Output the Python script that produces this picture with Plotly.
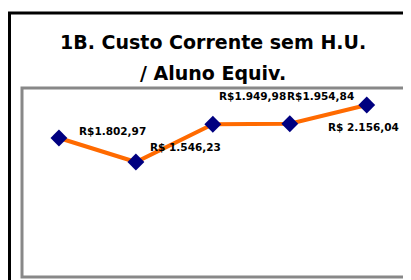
import plotly.graph_objects as go

categories = ["A", "B", "C", "D", "E"]
values = [1802.97, 1546.23, 1949.98, 1954.84, 2156.04]
labels = ["R$1.802,97", "R$ 1.546,23", "R$1.949,98", "R$1.954,84", "R$ 2.156,04"]
title_lines = ["1B. Custo Corrente sem H.U.", "/ Aluno Equiv."]

# label placement: (xanchor, xshift, yshift)
label_pos = [("left", 18, 7), ("left", 12, 15), ("left", 4, 28), ("left", -5, 28), ("center", -3, -22)]

OFF = 8  # default page margin of the html body
W, H = 411 - OFF, 280 - OFF
L, R, T, B = 22 - OFF, 5, 88 - OFF, 3
pw, ph = W - L - R, H - T - B

fig = go.Figure()
fig.add_trace(go.Scatter(
    x=list(range(len(categories))), y=values, mode="lines+markers",
    line=dict(color="#FF6A00", width=4),
    marker=dict(symbol="diamond", size=13, color="#000080"),
    hoverinfo="skip", showlegend=False,
))

ann = []
for i, (v, t) in enumerate(zip(values, labels)):
    xa, xs, ys = label_pos[i]
    ann.append(dict(x=i, y=v, xref="x", yref="y", text=t, showarrow=False,
                    xanchor=xa, yanchor="middle", xshift=xs, yshift=ys,
                    font=dict(family="DejaVu Sans", size=10.5, color="black", weight="bold")))

title_y = [42 - OFF, 73 - OFF]
for line, py in zip(title_lines, title_y):
    ann.append(dict(x=(213 - OFF - L) / pw, y=(H - B - py) / ph, xref="paper", yref="paper",
                    text=line, showarrow=False, xanchor="center", yanchor="middle",
                    font=dict(family="DejaVu Sans", size=19, color="black", weight="bold")))

shapes = [
    dict(type="rect", xref="paper", yref="paper",
         x0=(9.5 - OFF - L) / pw, x1=(W + 20 - L) / pw,
         y0=-0.2, y1=(H - B - (13 - OFF)) / ph,
         line=dict(color="black", width=3), layer="below"),
    dict(type="rect", xref="paper", yref="paper", x0=0, x1=1, y0=0, y1=1,
         line=dict(color="#888888", width=3), layer="below"),
]

fig.update_layout(
    width=W, height=H, margin=dict(l=L, r=R, t=T, b=B),
    paper_bgcolor="white", plot_bgcolor="white",
    xaxis=dict(range=[-0.48, 4.51], visible=False, fixedrange=True),
    yaxis=dict(range=[316, 2338], visible=False, fixedrange=True),
    annotations=ann, shapes=shapes,
)
fig.write_html("out.html")
